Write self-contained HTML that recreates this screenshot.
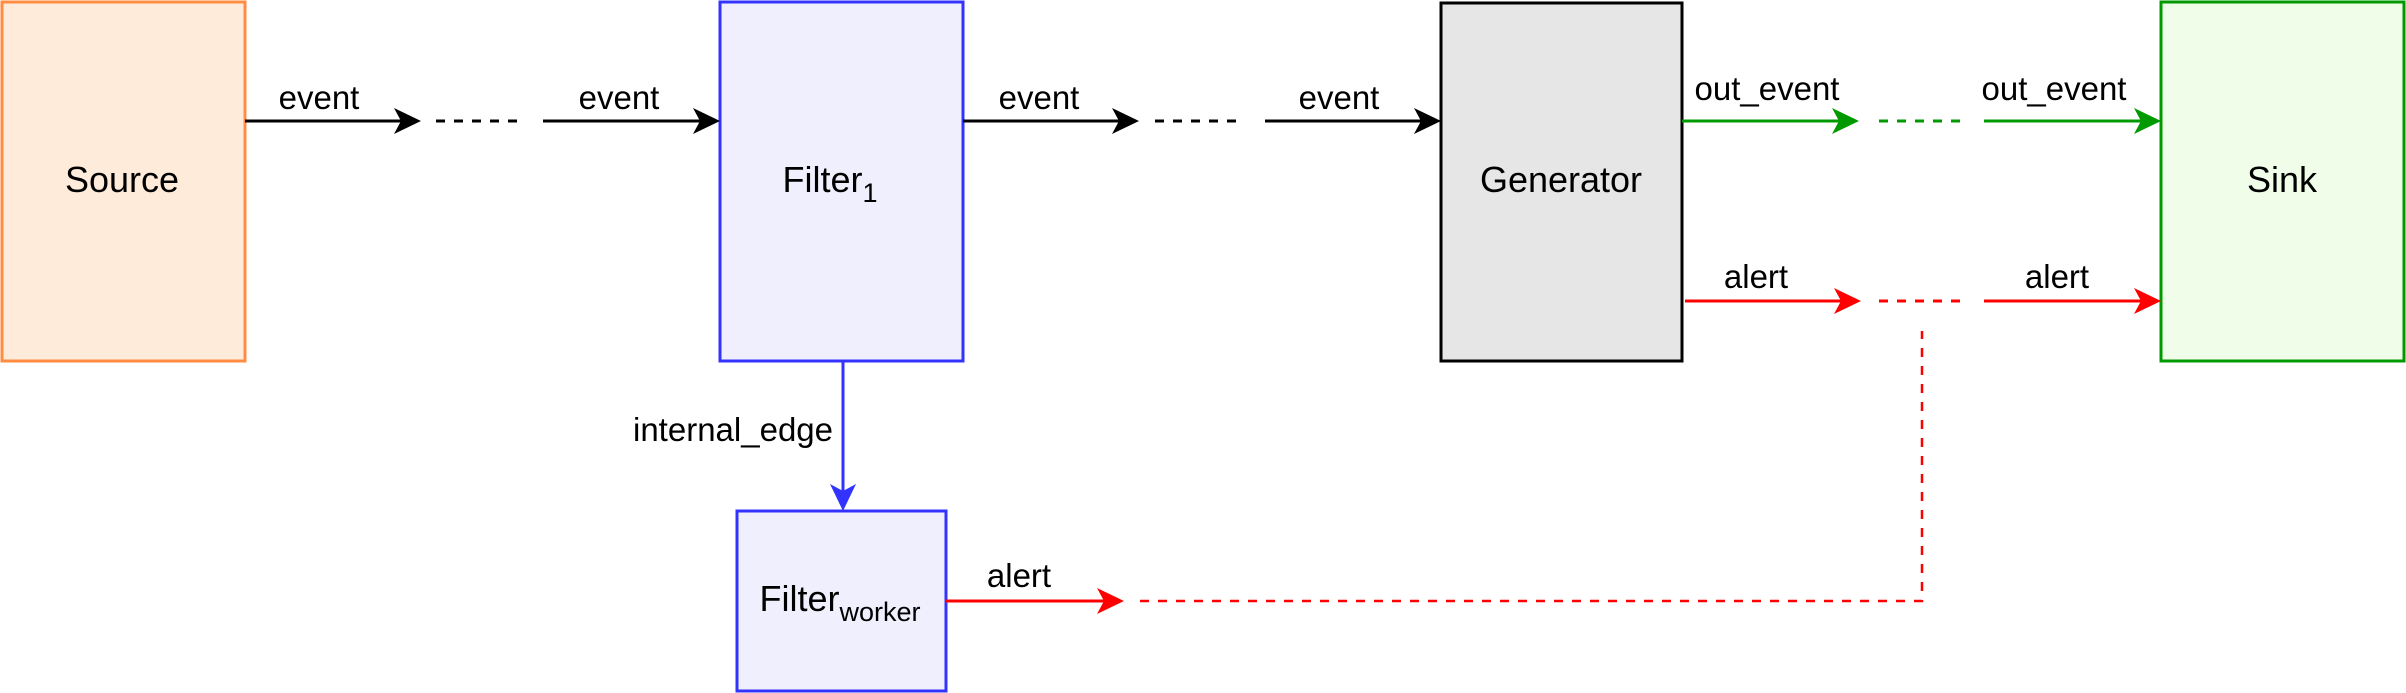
<!DOCTYPE html>
<html><head><meta charset="utf-8"><style>
html,body{margin:0;padding:0;background:#fff;}
svg{display:block;}
text{font-family:"Liberation Sans",sans-serif;fill:#000;}
.l{font-size:33px;}
.n{font-size:36px;}
</style></head><body>
<svg width="2406" height="693" viewBox="0 0 2406 693" xmlns="http://www.w3.org/2000/svg">
<defs>
<path id="ah" d="M0,0 L-27,-13 L-20,0 L-27,13 Z"/>
</defs>
<rect x="2" y="2" width="243" height="359" fill="#FFEBDA" stroke="#FF8C42" stroke-width="3"/>
<rect x="720" y="2" width="243" height="359" fill="#EFEFFD" stroke="#3333FF" stroke-width="3"/>
<rect x="1441" y="3" width="241" height="358" fill="#E6E6E6" stroke="#000" stroke-width="3"/>
<rect x="2161" y="2" width="243" height="359" fill="#F0FEE9" stroke="#009900" stroke-width="3"/>
<rect x="737" y="511" width="209" height="180" fill="#EFEFFD" stroke="#3333FF" stroke-width="3"/>

<text class="n" x="122" y="192" text-anchor="middle">Source</text>
<text class="n" x="830" y="192" text-anchor="middle">Filter<tspan font-size="27" dy="10">1</tspan></text>
<text class="n" x="1561" y="192" text-anchor="middle">Generator</text>
<text class="n" x="2282" y="192" text-anchor="middle">Sink</text>
<text class="n" x="840" y="611" text-anchor="middle">Filter<tspan font-size="27" dy="10">worker</tspan></text>

<g stroke="#000" stroke-width="3" fill="none">
<line x1="245" y1="121" x2="405" y2="121"/>
<line x1="436" y1="121" x2="517" y2="121" stroke-dasharray="9,9"/>
<line x1="543" y1="121" x2="704" y2="121"/>
<line x1="963" y1="121" x2="1123" y2="121"/>
<line x1="1155" y1="121" x2="1236" y2="121" stroke-dasharray="9,9"/>
<line x1="1265" y1="121" x2="1425" y2="121"/>
</g>
<use href="#ah" x="421" y="121" fill="#000"/>
<use href="#ah" x="720" y="121" fill="#000"/>
<use href="#ah" x="1139" y="121" fill="#000"/>
<use href="#ah" x="1441" y="121" fill="#000"/>
<text class="l" x="319" y="109" text-anchor="middle">event</text>
<text class="l" x="619" y="109" text-anchor="middle">event</text>
<text class="l" x="1039" y="109" text-anchor="middle">event</text>
<text class="l" x="1339" y="109" text-anchor="middle">event</text>

<g stroke="#009900" stroke-width="3" fill="none">
<line x1="1682" y1="121" x2="1843" y2="121"/>
<line x1="1879" y1="121" x2="1961" y2="121" stroke-dasharray="9,9"/>
<line x1="1984" y1="121" x2="2145" y2="121"/>
</g>
<use href="#ah" x="1859" y="121" fill="#009900"/>
<use href="#ah" x="2161" y="121" fill="#009900"/>
<text class="l" x="1767" y="100" text-anchor="middle">out_event</text>
<text class="l" x="2054" y="100" text-anchor="middle">out_event</text>

<g stroke="#FF0000" stroke-width="3" fill="none">
<line x1="1685" y1="301" x2="1845" y2="301"/>
<line x1="1879" y1="301" x2="1961" y2="301" stroke-dasharray="9,9"/>
<line x1="1984" y1="301" x2="2145" y2="301"/>
<line x1="946" y1="601" x2="1108" y2="601"/>
<polyline points="1140,601 1922,601 1922,331" stroke-dasharray="9,9" stroke-width="2.5"/>
</g>
<use href="#ah" x="1861" y="301" fill="#FF0000"/>
<use href="#ah" x="2161" y="301" fill="#FF0000"/>
<use href="#ah" x="1124" y="601" fill="#FF0000"/>
<text class="l" x="1756" y="288" text-anchor="middle">alert</text>
<text class="l" x="2057" y="288" text-anchor="middle">alert</text>
<text class="l" x="1019" y="587" text-anchor="middle">alert</text>

<line x1="843" y1="361" x2="843" y2="495" stroke="#3333FF" stroke-width="3"/>
<use href="#ah" transform="translate(843,511) rotate(90)" fill="#3333FF"/>
<text class="l" x="833" y="441" text-anchor="end">internal_edge</text>
</svg>
</body></html>
